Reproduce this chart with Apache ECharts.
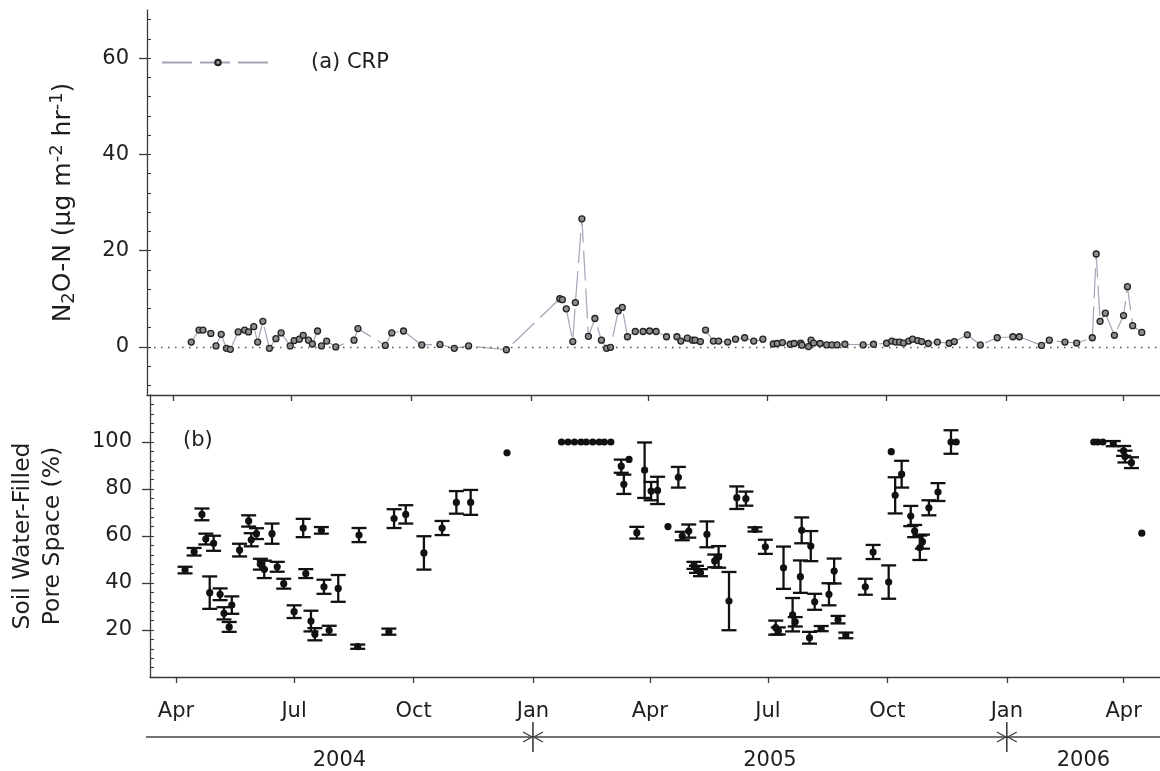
<!DOCTYPE html>
<html>
<head>
<meta charset="utf-8">
<title>N2O-N flux and soil WFPS, CRP</title>
<script src="https://cdn.jsdelivr.net/npm/echarts@6.0.0/dist/echarts.min.js"></script>
<style>
  html, body { margin: 0; padding: 0; background: #fff; }
  #chart { width: 1160px; height: 771px; }
</style>
</head>
<body>
<div id="chart"></div>
<script>
// ---- (a) N2O-N flux, CRP site (µg m-2 hr-1) ----
const n2oDates = [
  '2004-04-15','2004-04-21','2004-04-24','2004-04-30','2004-05-04','2004-05-08','2004-05-12','2004-05-15',
  '2004-05-21','2004-05-26','2004-05-29','2004-06-02','2004-06-05','2004-06-09','2004-06-14','2004-06-19',
  '2004-06-23','2004-06-30','2004-07-03','2004-07-07','2004-07-10','2004-07-14','2004-07-17','2004-07-21',
  '2004-07-24','2004-07-28','2004-08-04','2004-08-18','2004-08-21','2004-09-11','2004-09-16','2004-09-25',
  '2004-10-09','2004-10-23','2004-11-03','2004-11-14','2004-12-13',
  '2005-01-23','2005-01-25','2005-01-28','2005-02-02','2005-02-04','2005-02-09','2005-02-14','2005-02-19',
  '2005-02-24','2005-02-28','2005-03-03','2005-03-09','2005-03-12','2005-03-16','2005-03-22','2005-03-28',
  '2005-04-02','2005-04-07','2005-04-15','2005-04-23','2005-04-26','2005-05-01','2005-05-05','2005-05-07',
  '2005-05-11','2005-05-15','2005-05-21','2005-05-25','2005-06-01','2005-06-07','2005-06-14','2005-06-21',
  '2005-06-28','2005-07-06','2005-07-09','2005-07-13','2005-07-19','2005-07-22','2005-07-27','2005-07-28',
  '2005-08-02','2005-08-04','2005-08-06','2005-08-11','2005-08-16','2005-08-20','2005-08-24','2005-08-30',
  '2005-09-13','2005-09-21','2005-10-01','2005-10-05','2005-10-08','2005-10-11','2005-10-14','2005-10-18',
  '2005-10-21','2005-10-25','2005-10-28','2005-11-02','2005-11-09','2005-11-18','2005-11-22','2005-12-02',
  '2005-12-12','2005-12-25',
  '2006-01-06','2006-01-11','2006-01-28','2006-02-03','2006-02-15','2006-02-24','2006-03-08','2006-03-11',
  '2006-03-14','2006-03-18','2006-03-25','2006-04-01','2006-04-04','2006-04-08','2006-04-15'
];
const n2oFlux = [
  1.0, 3.5, 3.5, 2.8, 0.2, 2.6, -0.3, -0.5,
  3.1, 3.5, 3.1, 4.2, 1.0, 5.3, -0.3, 1.7,
  2.9, 0.2, 1.3, 1.6, 2.4, 1.4, 0.6, 3.3,
  0.2, 1.2, 0.0, 1.4, 3.8, 0.3, 2.9, 3.3,
  0.4, 0.5, -0.3, 0.2, -0.6,
  10.0, 9.8, 7.9, 1.1, 9.2, 26.6, 2.2, 5.9,
  1.4, -0.3, -0.1, 7.5, 8.2, 2.1, 3.2, 3.2,
  3.3, 3.2, 2.1, 2.1, 1.2, 1.8, 1.4, 1.4,
  1.1, 3.5, 1.2, 1.2, 1.0, 1.6, 1.9, 1.2,
  1.6, 0.6, 0.7, 0.9, 0.55, 0.7, 0.75, 0.35,
  0.06, 1.4, 0.8, 0.7, 0.4, 0.4, 0.4, 0.55,
  0.4, 0.55, 0.75, 1.2, 1.0, 1.0, 0.8, 1.2,
  1.6, 1.3, 1.1, 0.7, 1.0, 0.75, 1.1, 2.5,
  0.4, 1.9,
  2.1, 2.1, 0.3, 1.4, 1.0, 0.8, 1.9, 19.3,
  5.3, 7.0, 2.4, 6.5, 12.5, 4.4, 3.0
];

// ---- (b) soil water-filled pore space (%), mean and error ----
const wfpsDates = [
  '2004-04-08','2004-04-15','2004-04-21','2004-04-24','2004-04-27','2004-04-30','2004-05-05','2004-05-08',
  '2004-05-12','2004-05-14','2004-05-20','2004-05-27','2004-05-29','2004-06-02','2004-06-05','2004-06-08',
  '2004-06-14','2004-06-18','2004-06-23','2004-07-01','2004-07-08','2004-07-10','2004-07-14','2004-07-17',
  '2004-07-22','2004-07-24','2004-07-28','2004-08-04','2004-08-19','2004-08-20','2004-09-12','2004-09-16',
  '2004-09-25','2004-10-09','2004-10-23','2004-11-03','2004-11-14','2004-12-12',
  '2005-01-23','2005-01-28','2005-02-02','2005-02-07','2005-02-11','2005-02-16','2005-02-21','2005-02-25',
  '2005-03-02','2005-03-10','2005-03-12','2005-03-16','2005-03-22','2005-03-28','2005-04-02','2005-04-07',
  '2005-04-15','2005-04-23','2005-04-26','2005-05-01','2005-05-05','2005-05-07','2005-05-10','2005-05-15',
  '2005-05-21','2005-05-24','2005-06-01','2005-06-07','2005-06-14','2005-06-21','2005-06-29','2005-07-07',
  '2005-07-09','2005-07-13','2005-07-20','2005-07-22','2005-07-26','2005-07-27','2005-08-02','2005-08-03',
  '2005-08-06','2005-08-11','2005-08-17','2005-08-21','2005-08-24','2005-08-30','2005-09-14','2005-09-20',
  '2005-10-02','2005-10-04','2005-10-07','2005-10-12','2005-10-19','2005-10-22','2005-10-26','2005-10-28',
  '2005-11-02','2005-11-09','2005-11-19','2005-11-23',
  '2006-03-09','2006-03-12','2006-03-16','2006-03-24','2006-04-01','2006-04-02','2006-04-07','2006-04-15'
];
const wfpsMean = [
  45.5, 53.3, 69.2, 58.7, 35.9, 56.9, 35.2, 27.1,
  21.3, 30.6, 54.0, 66.4, 58.4, 61.0, 48.0, 45.8,
  61.0, 46.9, 39.7, 27.8, 63.4, 44.0, 23.8, 18.2,
  62.4, 38.4, 19.9, 37.7, 12.9, 60.4, 19.3, 67.4,
  69.2, 52.8, 63.4, 74.3, 74.3, 95.4,
  100, 100, 100, 100, 100, 100, 100, 100,
  100, 89.7, 82.0, 92.6, 61.4, 88.0, 79.1, 79.4,
  64.0, 85.0, 60.0, 62.1, 47.5, 45.8, 44.4, 60.7,
  49.4, 51.1, 32.3, 76.3, 75.9, 62.8, 55.4, 21.0,
  19.6, 46.5, 26.5, 23.5, 42.7, 62.4, 16.7, 55.7,
  32.0, 20.6, 35.2, 45.1, 24.4, 17.7, 38.4, 53.2,
  40.4, 95.9, 77.3, 86.3, 68.5, 62.1, 55.0, 57.6,
  72.0, 78.7, 100.0, 100.0,
  100, 100, 100, 99.3, 96.2, 93.8, 91.2, 61.2
];
const wfpsErr = [
  1.4, 1.6, 2.5, 2.3, 6.9, 3.2, 2.5, 2.6,
  2.1, 3.7, 2.7, 2.4, 2.8, 2.3, 2.3, 3.7,
  4.3, 2.1, 2.1, 2.7, 3.9, 1.9, 4.4, 2.6,
  1.4, 3.0, 1.9, 5.7, 0.9, 3.0, 1.3, 4.0,
  3.9, 7.1, 3.0, 4.8, 5.3, 0,
  0, 0, 0, 0, 0, 0, 0, 0,
  0, 2.8, 4.1, 0, 2.5, 11.8, 3.9, 5.8,
  0, 4.4, 1.8, 2.8, 1.5, 1.5, 1.5, 5.5,
  2.7, 4.6, 12.4, 4.8, 3.0, 0.9, 3.0, 3.0,
  1.5, 9.0, 7.1, 2.0, 6.9, 5.5, 2.5, 6.4,
  3.4, 1.1, 4.7, 5.3, 1.6, 1.2, 3.4, 3.0,
  7.1, 0, 7.7, 5.7, 4.3, 2.6, 5.2, 3.0,
  3.2, 3.8, 5.0, 0,
  0, 0, 0, 1.1, 2.1, 2.5, 2.3, 0
];

// ---- axis ticks and labels ----
const xStart = '2004-03-12';
const xEnd = '2006-04-29';
const quarterTicks = ['2004-04-01','2004-07-01','2004-10-01','2005-01-01','2005-04-01',
                      '2005-07-01','2005-10-01','2006-01-01','2006-04-01'];
const monthNames = ['Jan','Feb','Mar','Apr','May','Jun','Jul','Aug','Sep','Oct','Nov','Dec'];
const yearLabels = ['2004', '2005', '2006'];
const yearBreaks = ['2005-01-01', '2006-01-01'];
const fluxTicks = [0, 20, 40, 60];
const wfpsTicks = [20, 40, 60, 80, 100];

// timestamp (UTC) from 'YYYY-MM-DD'; the date axis is a plain value axis in ms
function ts(s) {
  const p = s.split('-').map(Number);
  return Date.UTC(p[0], p[1] - 1, p[2]);
}
function minorTicks(lo, hi, step) {
  const out = [];
  for (let v = Math.ceil(lo / step) * step; v <= hi; v += step) out.push(v);
  return out;
}

const FONT = "'DejaVu Sans', 'Liberation Sans', Arial, sans-serif";
const INK = '#1e1e1e';
const AXIS = '#3a3a3a';
const FS = 21;

const fluxData = n2oDates.map((d, i) => [ts(d), n2oFlux[i]]);
const wfpsData = wfpsDates.map((d, i) => [ts(d), wfpsMean[i], wfpsErr[i]]);
const qTicks = quarterTicks.map(ts);

function errorBarItem(params, api) {
  const x = api.value(0), m = api.value(1), e = api.value(2);
  const c = api.coord([x, m]);
  const children = [];
  if (e > 0) {
    const top = api.coord([x, m + e])[1];
    const bot = api.coord([x, m - e])[1];
    const hw = 7.5;
    const st = { stroke: '#111', lineWidth: 2.3 };
    children.push({ type: 'line', shape: { x1: c[0], y1: top, x2: c[0], y2: bot }, style: st });
    children.push({ type: 'line', shape: { x1: c[0] - hw, y1: top, x2: c[0] + hw, y2: top }, style: st });
    children.push({ type: 'line', shape: { x1: c[0] - hw, y1: bot, x2: c[0] + hw, y2: bot }, style: st });
  }
  children.push({ type: 'circle', shape: { cx: c[0], cy: c[1], r: 3.6 }, style: { fill: '#111' } });
  return { type: 'group', children };
}

function xAxisFor(gridIndex, withLabels) {
  return {
    type: 'value',
    gridIndex,
    min: ts(xStart),
    max: ts(xEnd),
    splitLine: { show: false },
    axisLine: { show: true, onZero: false, lineStyle: { color: AXIS, width: 1.3 } },
    axisTick: { show: true, customValues: qTicks, length: 6, lineStyle: { color: AXIS, width: 1.3 } },
    axisLabel: withLabels ? {
      customValues: qTicks,
      fontSize: FS, color: INK, fontFamily: FONT, margin: 24,
      formatter: v => monthNames[new Date(v).getUTCMonth()]
    } : { show: false }
  };
}

// major ticks cross the y axis: outside ticks on the labelled axis, inside minor ticks on a twin
function yAxesFor(gridIndex, min, max, majors, nameOpts) {
  return [
    Object.assign({
      type: 'value', gridIndex, min, max, position: 'left',
      nameLocation: 'middle', nameRotate: 90,
      splitLine: { show: false },
      axisLine: { show: true, lineStyle: { color: AXIS, width: 1.3 } },
      axisTick: { show: true, customValues: majors, length: 8, lineStyle: { color: AXIS, width: 1.3 } },
      axisLabel: { customValues: majors, fontSize: FS, color: INK, fontFamily: FONT, margin: 18 }
    }, nameOpts),
    {
      type: 'value', gridIndex, min, max, position: 'left', offset: 0,
      splitLine: { show: false },
      axisLine: { show: false },
      axisTick: { show: true, inside: true, customValues: minorTicks(min, max, 4), length: 4,
                  lineStyle: { color: AXIS, width: 1.1 } },
      axisLabel: { show: false }
    }
  ];
}

const chart = echarts.init(document.getElementById('chart'), null, { renderer: 'canvas' });

chart.setOption({
  animation: false,
  backgroundColor: '#ffffff',
  textStyle: { fontFamily: FONT, color: INK },
  grid: [
    { left: 147, right: 0, top: 10, height: 385 },
    { left: 147, right: 0, top: 395, height: 282 }
  ],
  legend: {
    data: ['(a) CRP'],
    left: 156,
    top: 47,
    itemWidth: 112,
    itemHeight: 7,
    textStyle: { fontSize: FS, color: INK, fontFamily: FONT, padding: [0, 0, 0, 32] }
  },
  xAxis: [xAxisFor(0, false), xAxisFor(1, true)],
  yAxis: [].concat(
    yAxesFor(0, -10, 70, fluxTicks, {
      name: '{t|N}{sub|2}{t|O-N (µg m}{sup|-2}{t| hr}{sup|-1}{t|)}',
      nameGap: 69,
      nameTextStyle: {
        fontFamily: FONT, color: INK,
        rich: {
          t: { fontSize: 25, lineHeight: 30, fontFamily: FONT, color: INK },
          sub: { fontSize: 18, verticalAlign: 'bottom', fontFamily: FONT, color: INK },
          sup: { fontSize: 18, verticalAlign: 'top', fontFamily: FONT, color: INK }
        }
      }
    }),
    yAxesFor(1, 0, 120, wfpsTicks, {
      name: 'Soil Water-Filled\nPore Space (%)',
      nameGap: 82,
      nameTextStyle: { fontSize: 23.5, lineHeight: 30, color: INK, fontFamily: FONT }
    })
  ),
  series: [
    {
      name: '(a) CRP',
      type: 'line',
      xAxisIndex: 0, yAxisIndex: 0,
      data: fluxData,
      symbol: 'circle',
      symbolSize: 6,
      itemStyle: { color: '#8e8e8e', borderColor: '#222', borderWidth: 1.3 },
      lineStyle: { color: '#a4a4b6', width: 1.2, type: [30, 8] },
      markLine: {
        silent: true,
        symbol: ['none', 'none'],
        label: { show: false },
        lineStyle: { color: '#555', width: 1.4, type: [1.5, 5.5] },
        data: [{ yAxis: 0 }]
      },
      z: 3
    },
    {
      name: 'WFPS',
      type: 'custom',
      xAxisIndex: 1, yAxisIndex: 2,
      data: wfpsData,
      encode: { x: 0, y: 1 },
      renderItem: errorBarItem,
      z: 3
    }
  ]
});

// Year band below the month axis, placed from the axis scale
function drawYearBand() {
  const px = d => chart.convertToPixel({ xAxisIndex: 1 }, ts(d));
  const xL = px(xStart) - 4;
  const xR = px(xEnd);
  const breaks = yearBreaks.map(px);
  const bounds = [xL].concat(breaks, [xR]);
  const lineY = 737;
  const st = { stroke: '#444', lineWidth: 1.4 };
  const g = [
    { type: 'text', left: 183, top: 430, style: { text: '(b)', fontSize: FS, fontFamily: FONT, fill: INK } },
    { type: 'line', shape: { x1: xL, y1: lineY, x2: xR, y2: lineY }, style: st }
  ];
  breaks.forEach(bx => {
    g.push({ type: 'line', shape: { x1: bx, y1: lineY - 15, x2: bx, y2: lineY + 15 }, style: { stroke: '#222', lineWidth: 1.4 } });
    g.push({ type: 'polyline', shape: { points: [[bx - 10, lineY - 5], [bx - 1, lineY], [bx - 10, lineY + 5]] }, style: st });
    g.push({ type: 'polyline', shape: { points: [[bx + 10, lineY - 5], [bx + 1, lineY], [bx + 10, lineY + 5]] }, style: st });
  });
  yearLabels.forEach((lab, i) => {
    g.push({
      type: 'text',
      x: (bounds[i] + bounds[i + 1]) / 2, y: 761,
      style: { text: lab, fontSize: FS, fontFamily: FONT, fill: INK, align: 'center', verticalAlign: 'middle' }
    });
  });
  chart.setOption({ graphic: g });
}
drawYearBand();
</script>
</body>
</html>
